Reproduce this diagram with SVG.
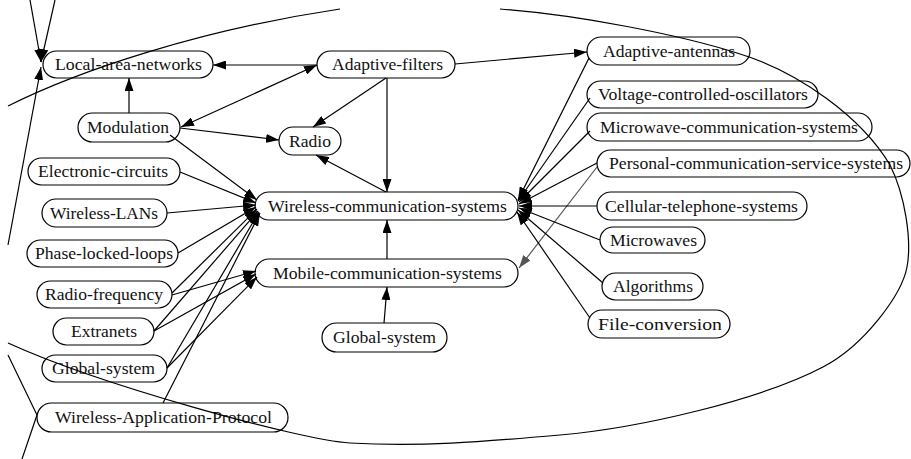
<svg xmlns="http://www.w3.org/2000/svg" width="911" height="459" viewBox="0 0 911 459">
<defs>
<marker id="ah" markerUnits="userSpaceOnUse" markerWidth="13" markerHeight="9" refX="13" refY="4.5" orient="auto-start-reverse"><path d="M0,0 L13,4.5 L0,9 z" fill="#000"/></marker>
<marker id="ahg" markerUnits="userSpaceOnUse" markerWidth="13" markerHeight="9" refX="13" refY="4.5" orient="auto"><path d="M0,0 L13,4.5 L0,9 z" fill="#555"/></marker>
<style>
.n rect{fill:none;stroke:#000;stroke-width:1.2}
.n text{font-family:"Liberation Serif","Times New Roman",serif;font-size:17.5px;fill:#111;text-anchor:middle}
.e path{fill:none;stroke:#000;stroke-width:1.2}
.e path.a{marker-end:url(#ah)}
.e path.g{stroke:#555;marker-end:url(#ahg)}
</style>
</defs>
<rect width="911" height="459" fill="#fff"/>
<g id="nodes">
<g id="n-lan" class="n"><rect x="43" y="51" width="170" height="27" rx="13.5"/><text x="128.5" y="70" textLength="147" lengthAdjust="spacingAndGlyphs">Local-area-networks</text></g>
<g id="n-af" class="n"><rect x="317" y="51" width="138" height="27" rx="13.5"/><text x="387.5" y="70" textLength="111" lengthAdjust="spacingAndGlyphs">Adaptive-filters</text></g>
<g id="n-aa" class="n"><rect x="587" y="37" width="163" height="28" rx="14"/><text x="669" y="56.5" textLength="132" lengthAdjust="spacingAndGlyphs">Adaptive-antennas</text></g>
<g id="n-vco" class="n"><rect x="587" y="81" width="231" height="27" rx="13.5"/><text x="703" y="100" textLength="210" lengthAdjust="spacingAndGlyphs">Voltage-controlled-oscillators</text></g>
<g id="n-mwcs" class="n"><rect x="587" y="113" width="285" height="28" rx="14"/><text x="729" y="132.5" textLength="258" lengthAdjust="spacingAndGlyphs">Microwave-communication-systems</text></g>
<g id="n-pcss" class="n"><rect x="597" y="150" width="313" height="27" rx="13.5"/><text x="756" y="169" textLength="294" lengthAdjust="spacingAndGlyphs">Personal-communication-service-systems</text></g>
<g id="n-cts" class="n"><rect x="597" y="192" width="210" height="28" rx="14"/><text x="701.5" y="211.5" textLength="193" lengthAdjust="spacingAndGlyphs">Cellular-telephone-systems</text></g>
<g id="n-mw" class="n"><rect x="600" y="227" width="105" height="26" rx="13"/><text x="653.5" y="245.5" textLength="87" lengthAdjust="spacingAndGlyphs">Microwaves</text></g>
<g id="n-alg" class="n"><rect x="602" y="273" width="101" height="27" rx="13.5"/><text x="653" y="292" textLength="80" lengthAdjust="spacingAndGlyphs">Algorithms</text></g>
<g id="n-fc" class="n"><rect x="588" y="310" width="142" height="28" rx="14"/><text x="660" y="329.5" textLength="124" lengthAdjust="spacingAndGlyphs">File-conversion</text></g>
<g id="n-wcs" class="n"><rect x="255" y="192" width="263" height="28" rx="14"/><text x="387.5" y="211.5" textLength="239" lengthAdjust="spacingAndGlyphs">Wireless-communication-systems</text></g>
<g id="n-mcs" class="n"><rect x="255" y="259" width="263" height="28" rx="14"/><text x="387.5" y="278.5" textLength="229" lengthAdjust="spacingAndGlyphs">Mobile-communication-systems</text></g>
<g id="n-gs2" class="n"><rect x="322" y="323" width="125" height="29" rx="14.5"/><text x="384.5" y="343" textLength="103" lengthAdjust="spacingAndGlyphs">Global-system</text></g>
<g id="n-radio" class="n"><rect x="279" y="127" width="62" height="28" rx="14"/><text x="310" y="146.5" textLength="42" lengthAdjust="spacingAndGlyphs">Radio</text></g>
<g id="n-mod" class="n"><rect x="78" y="113" width="102" height="29" rx="14.5"/><text x="128" y="133" textLength="82" lengthAdjust="spacingAndGlyphs">Modulation</text></g>
<g id="n-ec" class="n"><rect x="28" y="158" width="152" height="27" rx="13.5"/><text x="103" y="177" textLength="130" lengthAdjust="spacingAndGlyphs">Electronic-circuits</text></g>
<g id="n-wlan" class="n"><rect x="42" y="199" width="125" height="28" rx="14"/><text x="104" y="218.5" textLength="108" lengthAdjust="spacingAndGlyphs">Wireless-LANs</text></g>
<g id="n-pll" class="n"><rect x="27" y="240" width="151" height="27" rx="13.5"/><text x="104" y="259" textLength="138" lengthAdjust="spacingAndGlyphs">Phase-locked-loops</text></g>
<g id="n-rf" class="n"><rect x="37" y="281" width="135" height="27" rx="13.5"/><text x="104" y="300" textLength="118" lengthAdjust="spacingAndGlyphs">Radio-frequency</text></g>
<g id="n-ext" class="n"><rect x="53" y="318" width="101" height="27" rx="13.5"/><text x="104" y="337" textLength="66" lengthAdjust="spacingAndGlyphs">Extranets</text></g>
<g id="n-gs1" class="n"><rect x="42" y="355" width="125" height="27" rx="13.5"/><text x="103.5" y="374" textLength="103" lengthAdjust="spacingAndGlyphs">Global-system</text></g>
<g id="n-wap" class="n"><rect x="37" y="403" width="251" height="29" rx="14.5"/><text x="163.5" y="423" textLength="217" lengthAdjust="spacingAndGlyphs">Wireless-Application-Protocol</text></g>
</g>
<g id="connectors" class="e">
<path class="a" d="M317,65 L213,65"/>
<path class="a" d="M129,113 L129,78"/>
<path class="a" d="M181,127 L317,65" style="marker-start:url(#ah)"/>
<path class="a" d="M180,128 L279,140"/>
<path class="a" d="M386,78 L313,127"/>
<path class="a" d="M387,78 L387,192"/>
<path class="a" d="M386,192 L316,155"/>
<path class="a" d="M387,259 L387,220"/>
<path class="a" d="M384,323 L387,287"/>
<path class="a" d="M455,64 L587,52"/>
<path class="g" d="M597,167 L519,268"/>
<path class="a" d="M170,135 L257,200"/>
<path class="a" d="M180,172 L256,203"/>
<path class="a" d="M167,213 L256,205"/>
<path class="a" d="M178,253 L256,207"/>
<path class="a" d="M172,293 L257,209"/>
<path class="a" d="M154,331 L258,211"/>
<path class="a" d="M167,368 L259,212"/>
<path class="a" d="M163,403 L260,213"/>
<path class="a" d="M172,295 L256,271"/>
<path class="a" d="M154,331 L256,274"/>
<path class="a" d="M167,368 L257,277"/>
<path class="a" d="M589,58 L518,200"/>
<path class="a" d="M590,98 L518,201"/>
<path class="a" d="M590,131 L519,202"/>
<path class="a" d="M597,163 L519,204"/>
<path class="a" d="M597,206 L519,206"/>
<path class="a" d="M600,240 L519,208"/>
<path class="a" d="M603,283 L518,210"/>
<path class="a" d="M590,318 L517,212"/>
<path class="a" d="M30,0 L41,62"/>
<path class="a" d="M55,0 L41,62"/>
<path class="a" d="M8,245 L41,67"/>
<path d="M8,355 L37,415 L22,459"/>
<path d="M8,106 C80,70 200,30 340,9 M500,9 C580,15 680,35 737,53 C800,72 862,118 890,165 C905,195 912,240 907,267 C902,294 865,345 823,367 C760,400 640,428 560,435 C480,442 420,447 350,443 C300,440 100,385 8,343"/>
</g>
</svg>
